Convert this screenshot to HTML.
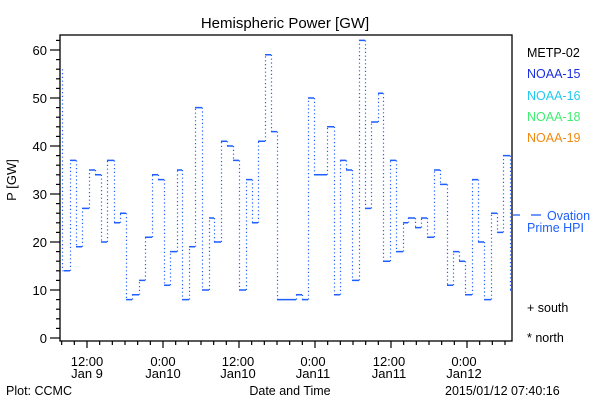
<!DOCTYPE html>
<html><head><meta charset="utf-8"><style>
html,body{margin:0;padding:0;background:#fff;}
svg{display:block;font-family:"Liberation Sans",sans-serif;}
</style></head><body>
<svg id="s" width="600" height="400" viewBox="0 0 600 400" xmlns="http://www.w3.org/2000/svg">
<rect width="600" height="400" fill="#fff"/>
<text x="285" y="28" font-size="15" text-anchor="middle">Hemispheric Power [GW]</text>
<rect x="60" y="35" width="452" height="306" fill="none" stroke="#000" stroke-width="1.3"/>
<g id="ax" stroke="#000" stroke-width="1.2"></g>
<g id="yl" font-size="13" text-anchor="end"></g>
<g id="xl" font-size="13" text-anchor="middle"></g>
<g id="dat"></g>
<text x="16" y="180" font-size="13" text-anchor="middle" transform="rotate(-90 16 180)">P [GW]</text>
<g font-size="12.5">
<text x="527" y="57" fill="#000">METP-02</text>
<text x="527" y="78" fill="#1a2fe0">NOAA-15</text>
<text x="527" y="100" fill="#22c8f0">NOAA-16</text>
<text x="527" y="121" fill="#40ee70">NOAA-18</text>
<text x="527" y="142" fill="#f08a10">NOAA-19</text>
<text x="547" y="220" fill="#1f5fff">Ovation</text>
<text x="527" y="232" fill="#1f5fff">Prime HPI</text>
<text x="527" y="312" fill="#000">+ south</text>
<text x="527" y="342" fill="#000">* north</text>
<text x="6" y="395" fill="#000">Plot: CCMC</text>
<text x="290" y="395" fill="#000" text-anchor="middle">Date and Time</text>
<text x="445" y="395" fill="#000">2015/01/12 07:40:16</text>
</g>
<line x1="513" y1="215" x2="520" y2="215" stroke="#1f5fff" stroke-width="1.3"/>
<line x1="531" y1="215" x2="541" y2="215" stroke="#1f5fff" stroke-width="1.3"/>
</svg>
<script>
const NS="http://www.w3.org/2000/svg";
function el(p,t,a,txt){const e=document.createElementNS(NS,t);for(const k in a)e.setAttribute(k,a[k]);if(txt)e.textContent=txt;document.getElementById(p).appendChild(e);}
const Y=v=>338-4.8*v;
for(let v=0;v<=62;v+=2){const y=Y(v);const maj=v%10==0;el("ax","line",{x1:maj?50:56,y1:y,x2:60,y2:y});if(maj)el("yl","text",{x:47,y:y+5},String(v));}
const maj=[[87,"12:00","Jan 9"],[163,"0:00","Jan10"],[238,"12:00","Jan10"],[313,"0:00","Jan11"],[389,"12:00","Jan11"],[464,"0:00","Jan12"]];
for(let i=-2;i<=37;i++){const x=87+i*76/6;if(x<60||x>512)continue;const m=i%6==0;el("ax","line",{x1:x,y1:341,x2:x,y2:m?348:345});}
maj.forEach(m=>{el("xl","text",{x:m[0],y:366},m[1]);el("xl","text",{x:m[0],y:378},m[2]);});
const d=[[64,14],[70,37],[76,19],[82,27],[89,35],[95,34],[101,20],[107,37],[114,24],[120,26],[126,8],[132,9],[139,12],[145,21],[152,34],[158,33],[164,11],[170,18],[177,35],[182,8],[189,19],[195,48],[202,10],[209,25],[214,20],[221,41],[227,40],[233,37],[239,10],[246,33],[252,24],[258,41],[265,59],[271,43],[277,8],[296,9],[302,8],[308,50],[314,34],[327,44],[334,9],[340,37],[346,35],[352,12],[359,62],[365,27],[371,45],[378,51],[383,16],[390,37],[396,18],[403,24],[408,25],[415,23],[421,25],[427,21],[434,35],[440,32],[447,11],[453,18],[459,16],[465,9],[472,33],[478,20],[484,8],[491,26],[497,22],[503,38],[510,10]];
let h="",v="";
v+=`M62.5 ${Y(56)}V${Y(14)}`;
for(let i=0;i<d.length;i++){const x0=d[i][0],x1=i+1<d.length?d[i+1][0]:512;h+=`M${x0} ${Y(d[i][1])}H${x1}`;if(i+1<d.length)v+=`M${x1+0.5} ${Y(d[i][1])}V${Y(d[i+1][1])}`;}
v+=`M62.5 ${Y(14)}H64`;
el("dat","path",{d:h,stroke:"#1f5fff","stroke-width":1.5,fill:"none"});
el("dat","path",{d:v,stroke:"#1f5fff","stroke-width":1.2,fill:"none","stroke-dasharray":"1.2 2.6"});
</script>
</body></html>
